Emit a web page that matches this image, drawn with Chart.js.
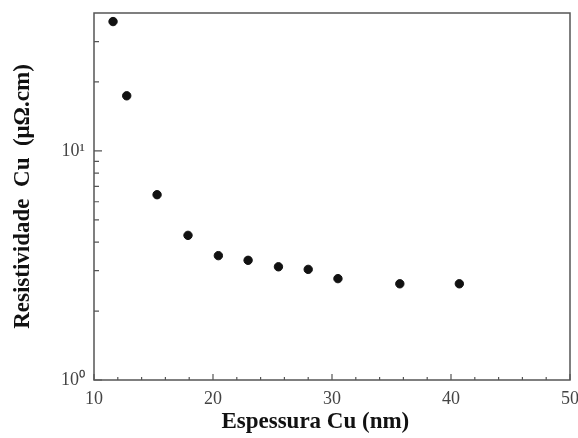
<!DOCTYPE html>
<html>
<head>
<meta charset="utf-8">
<script src="https://cdn.jsdelivr.net/npm/chart.js@4"></script>
<style>
  html, body { margin: 0; padding: 0; background: #fff; }
  #wrap { width: 578px; height: 438px; }
</style>
</head>
<body>
<div id="wrap"><canvas id="myChart" width="578" height="438"></canvas></div>
<script>
// thickness values (nm) and resistivity (µΩ.cm)
const espessura = [11.6, 12.75, 15.3, 17.9, 20.45, 22.95, 25.5, 28.0, 30.5, 35.7, 40.7]
const resistividade = [36.7, 17.4, 6.44, 4.28, 3.49, 3.33, 3.12, 3.04, 2.77, 2.63, 2.63]

const xTicks = [10, 20, 30, 40, 50]
const xMinor = [12, 14, 16, 18, 22, 24, 26, 28, 32, 34, 36, 38, 42, 44, 46, 48]
const yTicks = [1, 10]
const yTickLabels = ['10⁰', '10¹']
const yMinor = [2, 3, 4, 5, 6, 7, 8, 9, 20, 30]

const xTitle = 'Espessura Cu (nm)'
const yTitle = 'Resistividade  Cu  (μΩ.cm)'

const axisColor = '#555'
const titleFont = 'bold 23px "Liberation Serif"'

// box frame, inward tick marks and the x title (sits a bit left of centre)
const frame = {
  id: 'frame',
  afterDraw (chart) {
    const { ctx, chartArea: a, scales } = chart
    ctx.save()
    ctx.strokeStyle = axisColor
    ctx.lineWidth = 1.5
    ctx.strokeRect(a.left, a.top, a.right - a.left, a.bottom - a.top)
    ctx.lineWidth = 1.2
    ctx.beginPath()
    xTicks.forEach(v => {
      const px = scales.x.getPixelForValue(v)
      ctx.moveTo(px, a.bottom); ctx.lineTo(px, a.bottom - 6)
    })
    xMinor.forEach(v => {
      const px = scales.x.getPixelForValue(v)
      ctx.moveTo(px, a.bottom); ctx.lineTo(px, a.bottom - 3)
    })
    yTicks.forEach(v => {
      const py = scales.y.getPixelForValue(v)
      ctx.moveTo(a.left, py); ctx.lineTo(a.left + 8, py)
    })
    yMinor.forEach(v => {
      const py = scales.y.getPixelForValue(v)
      ctx.moveTo(a.left, py); ctx.lineTo(a.left + 5, py)
    })
    ctx.stroke()

    ctx.fillStyle = '#111'
    ctx.font = titleFont
    ctx.textAlign = 'center'
    ctx.textBaseline = 'middle'
    ctx.fillText(xTitle, scales.x.getPixelForValue(28.6), a.bottom + 42)
    ctx.restore()
  }
}

const ctx = document.getElementById('myChart')
const myChart = new Chart(ctx, {
  type: 'scatter',
  data: {
    datasets: [{
      data: espessura.map((x, i) => ({ x: x, y: resistividade[i] })),
      backgroundColor: '#111',
      borderColor: '#111',
      pointRadius: 4.2,
      pointHoverRadius: 4.2
    }]
  },
  options: {
    responsive: false,
    animation: false,
    layout: { padding: { top: 13, right: 8, left: 0, bottom: 0 } },
    plugins: {
      legend: { display: false },
      tooltip: { enabled: false }
    },
    scales: {
      x: {
        type: 'linear',
        min: 10,
        max: 50,
        afterBuildTicks: s => { s.ticks = xTicks.map(v => ({ value: v })) },
        afterFit: s => {
          s.height = 58
          s.paddingLeft = 0
          s.paddingRight = 0
        },
        grid: { display: false, drawTicks: false },
        border: { display: false },
        ticks: {
          padding: 8,
          color: '#444',
          font: { family: 'Liberation Serif', size: 18 }
        }
      },
      y: {
        type: 'logarithmic',
        min: 1,
        max: 40,
        afterBuildTicks: s => { s.ticks = yTicks.map(v => ({ value: v })) },
        afterFit: s => {
          s.width = 94
          s.paddingTop = 0
          s.paddingBottom = 0
        },
        grid: { display: false, drawTicks: false },
        border: { display: false },
        ticks: {
          padding: 9,
          color: '#444',
          font: { family: 'Liberation Serif', size: 18 },
          callback: (v) => {
            const i = yTicks.indexOf(v)
            return i >= 0 ? yTickLabels[i] : ''
          }
        },
        title: {
          display: true,
          text: yTitle,
          color: '#111',
          font: { family: 'Liberation Serif', size: 23, weight: 'bold' },
          padding: { top: 9, bottom: 0 }
        }
      }
    }
  },
  plugins: [frame]
})
</script>
</body>
</html>
